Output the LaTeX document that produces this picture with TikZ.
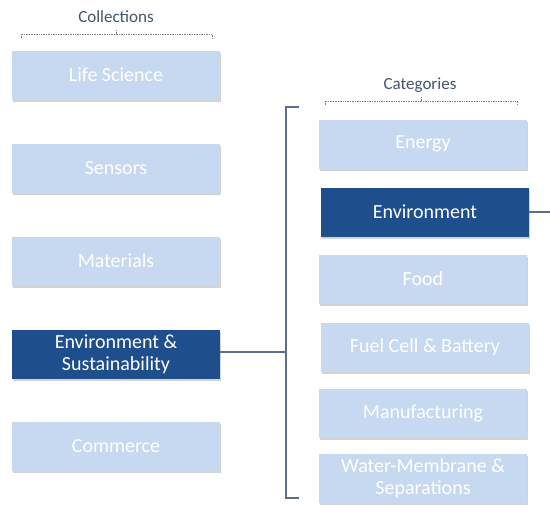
\documentclass[tikz,border=0pt]{standalone}
\usepackage{fontspec}
\setmainfont{Carlito}
\usetikzlibrary{shadows}
\definecolor{lightbox}{HTML}{C6D9F1}
\definecolor{darkbox}{HTML}{1F4E8C}
\definecolor{labelgray}{HTML}{44546A}
\definecolor{linegray}{HTML}{5A6E8A}
\tikzset{
  x=1pt,y=-1pt,
  cbox/.style={rectangle, minimum width=208pt, minimum height=49pt, inner sep=0pt,
    align=center, font=\fontsize{20}{22}\selectfont, text=white,
    drop shadow={shadow xshift=1pt, shadow yshift=-2pt, opacity=.35, fill=gray}},
  lightnode/.style={cbox, fill=lightbox},
  darknode/.style={cbox, fill=darkbox},
  hdr/.style={font=\fontsize{17}{19}\selectfont, text=labelgray},
  brk/.style={draw=gray, densely dotted, line width=0.7pt},
  conn/.style={draw=linegray, line width=1.1pt}
}
\begin{document}
\begin{tikzpicture}
\useasboundingbox (0,0) rectangle (550,512);
% collections
\node[hdr] (coll) at (116,17) {Collections};
\coordinate (cl) at (21,38);
\coordinate (cr) at (212,38);
\draw[brk] (cl) -- ++(0,-4) -- (212,34) -- (cr);
\draw[brk] (116,34) -- (116,30);
\node[lightnode] (ls) at (116,75) {Life Science};
\node[lightnode] (se) at (116,168) {Sensors};
\node[lightnode] (ma) at (116,261) {Materials};
\node[darknode] (es) at (116,354) {Environment \&\\Sustainability};
\node[lightnode] (co) at (116,446) {Commerce};
% categories
\node[hdr] (cat) at (420,85) {Categories};
\draw[brk] (325,105) -- (325,101) -- (517,101) -- (517,105);
\draw[brk] (421,101) -- (421,97);
\node[lightnode] (en) at (423,144) {Energy};
\node[darknode] (ev) at (425,212) {Environment};
\node[lightnode] (fo) at (423,279) {Food};
\node[lightnode] (fc) at (425,347) {Fuel Cell \& Battery};
\node[lightnode] (mf) at (423,413) {Manufacturing};
\node[lightnode] (wm) at (423,478) {Water-Membrane \&\\Separations};
% connectors
\coordinate (bt) at (299,107);
\coordinate (bb) at (299,498);
\coordinate (bm) at (286,352);
\draw[conn] (bt) -- (286,107) -- (286,498) -- (bb);
\draw[conn] (es.east |- bm) -- (bm);
\coordinate (evout) at (550,212);
\draw[conn] (ev.east) -- (evout);
\end{tikzpicture}
\end{document}
